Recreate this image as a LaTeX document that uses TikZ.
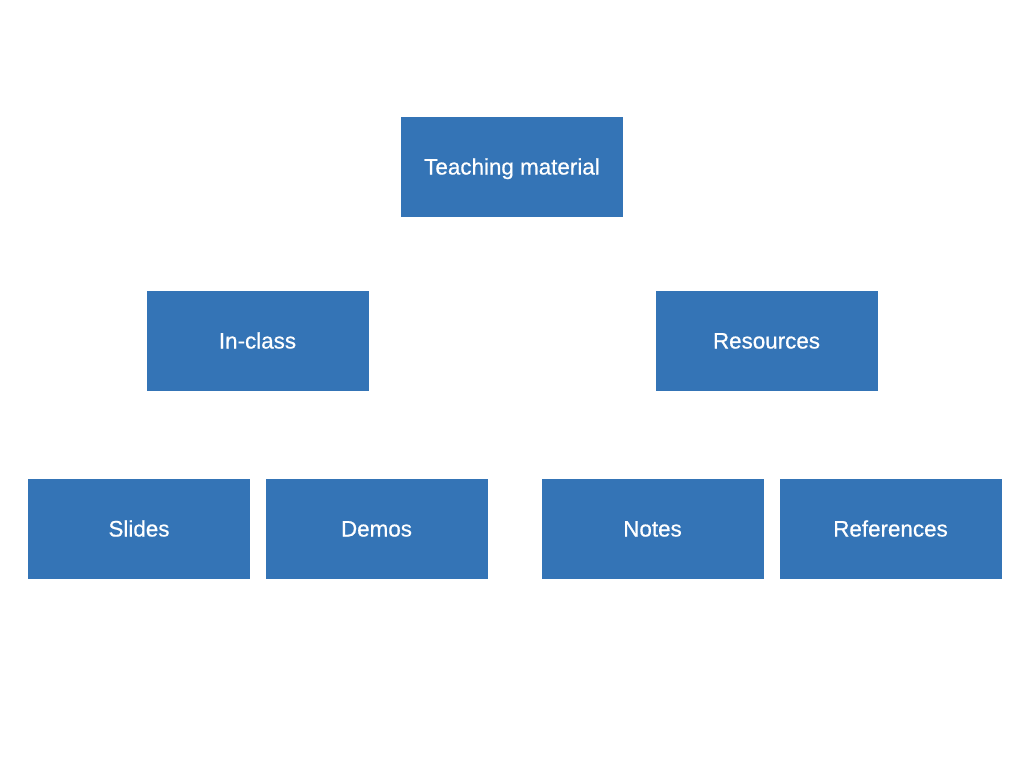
\documentclass[tikz,border=0pt]{standalone}
\usepackage{fontspec}
\setmainfont[FakeBold=0.6,BoldFont={Liberation Sans}]{Liberation Sans}
\definecolor{boxblue}{HTML}{3474B6}
\begin{document}
\begin{tikzpicture}[x=1pt,y=-1pt,
  box/.style={fill=boxblue,draw=none,minimum width=222pt,minimum height=100pt,inner sep=0pt,text height=16pt,text depth=0pt,text=white,font=\fontsize{22.4}{26}\selectfont\bfseries}]
\useasboundingbox (0,0) rectangle (1024,768);
\node[box] (top) at (512,166.5) {Teaching material};
\node[box] (inclass) at (257.5,340.5) {In-class};
\node[box] (res) at (766.5,340.5) {Resources};
\node[box] (slides) at (139,528.5) {Slides};
\node[box] (demos) at (376.5,528.5) {Demos};
\node[box] (notes) at (652.5,528.5) {Notes};
\node[box] (refs) at (890.5,528.5) {References};
\end{tikzpicture}
\end{document}
